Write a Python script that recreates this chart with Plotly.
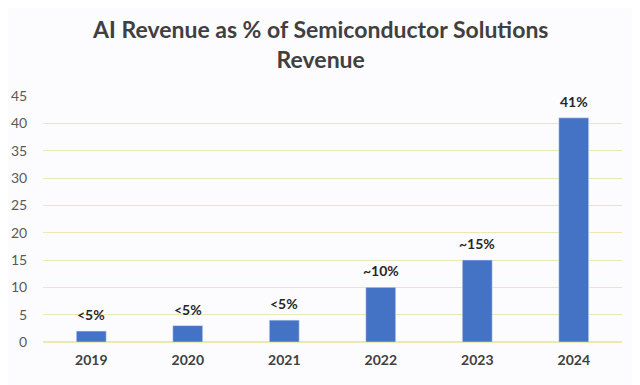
import plotly.graph_objects as go

years = ["2019", "2020", "2021", "2022", "2023", "2024"]
ai_share = [2, 3, 4, 10, 15, 41]
labels = ["<5%", "<5%", "<5%", "~10%", "~15%", "41%"]
y_ticks = [0, 5, 10, 15, 20, 25, 30, 35, 40, 45]
title_text = "AI Revenue as % of Semiconductor Solutions<br>Revenue"

fig = go.Figure(go.Bar(
    x=years, y=ai_share, marker=dict(color="#4472c4"), cliponaxis=False,
))

for i, (val, lab) in enumerate(zip(ai_share, labels)):
    fig.add_annotation(
        x=i, y=val, text=lab, showarrow=False, xanchor="center",
        yanchor="bottom", yshift=6,
        font=dict(family="Lato", size=14, color="#262626", weight="bold"),
    )

fig.add_annotation(
    text=title_text, xref="paper", yref="paper", x=0.479, y=1.21,
    xanchor="center", yanchor="middle", showarrow=False,
    font=dict(family="Lato", size=23, color="#404040", weight="bold"),
)

fig.update_layout(
    width=640, height=385,
    margin=dict(l=35, r=26, t=88, b=51, autoexpand=False),
    paper_bgcolor="#fcfcfe", plot_bgcolor="#fcfcfe",
    bargap=0.69,
    showlegend=False,
    xaxis=dict(
        type="category", categoryorder="array", categoryarray=years,
        range=[-0.5, len(years) - 0.5],
        showgrid=False, showline=False, automargin=False,
        ticks="outside", ticklen=5, tickcolor="rgba(0,0,0,0)",
        tickfont=dict(family="Lato", size=14, color="#404040", weight="bold"),
    ),
    yaxis=dict(
        range=[0, 45], tickvals=y_ticks, showgrid=True, automargin=False,
        gridcolor="#ece8b4", gridwidth=1, zeroline=True, zerolinecolor="#ece8b4",
        ticks="outside", ticklen=12, tickcolor="rgba(0,0,0,0)",
        tickfont=dict(family="Lato", size=14, color="#595959"),
    ),
    font=dict(family="Lato"),
)

fig.write_html("out.html")
